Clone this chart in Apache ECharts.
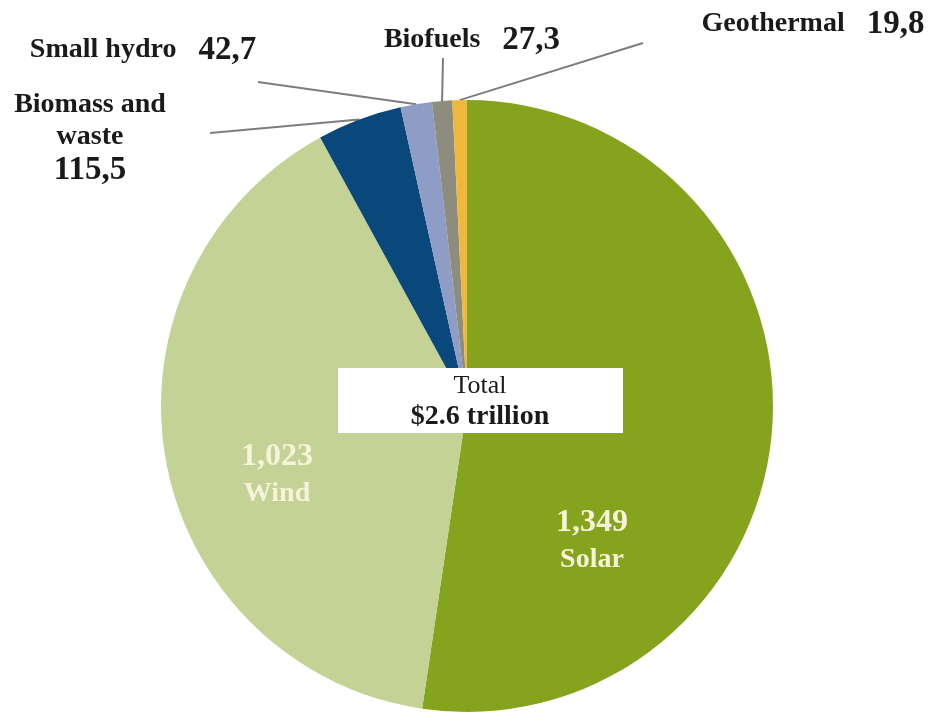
<!DOCTYPE html>
<html>
<head>
<meta charset="utf-8">
<script src="https://cdn.jsdelivr.net/npm/echarts@6/dist/echarts.min.js"></script>
<style>
  html, body { margin: 0; padding: 0; background: #ffffff; }
  #chart { width: 932px; height: 715px; }
</style>
</head>
<body>
<div id="chart"></div>
<script>
// Investment by renewable technology (billion USD), total $2.6 trillion
const categories = ['Solar', 'Wind', 'Biomass and waste', 'Small hydro', 'Biofuels', 'Geothermal'];
const labelNames = ['Solar', 'Wind', 'Biomass and\nwaste', 'Small hydro', 'Biofuels', 'Geothermal'];
const values = [1349, 1023, 115.5, 42.7, 27.3, 19.8];
const totalText = ['Total', '$2.6 trillion'];

const colors = ['#85a31d', '#c4d295', '#0a487c', '#8f9cc5', '#8e8d7d', '#efb83c'];
const SERIF = '"Liberation Serif", "Times New Roman", serif';

// Label placement: big slices get text inside, small ones a callout line to text above
const labelPlacement = [
  { center: [592, 541], inside: true },
  { center: [277, 475], inside: true },
  { center: [90, 138], lineEnd: [210, 133] },
  { center: [143, 50], lineEnd: [258, 82] },
  { center: [472, 40], lineEnd: [443, 58] },
  { center: [813, 24], lineEnd: [643, 43] }
];

function fmtBig(v) { return v.toLocaleString('en-US'); }
function fmtSmall(v) { return v.toFixed(1).replace('.', ','); }

const data = categories.map((name, i) => {
  const inside = !!labelPlacement[i].inside;
  let text;
  if (inside) {
    text = '{v|' + fmtBig(values[i]) + '}\n{n|' + labelNames[i] + '}';
  } else if (labelNames[i].indexOf('\n') >= 0) {
    text = labelNames[i].split('\n').map(s => '{o|' + s + '}').join('\n') + '\n{ov|' + fmtSmall(values[i]) + '}';
  } else {
    text = '{o|' + labelNames[i] + '}{g|}{ov|' + fmtSmall(values[i]) + '}';
  }
  return {
    name: name,
    value: values[i],
    itemStyle: { color: colors[i] },
    label: { show: true, position: inside ? 'inside' : 'outside', formatter: text },
    labelLine: { show: !inside }
  };
});

const chart = echarts.init(document.getElementById('chart'), null, { renderer: 'canvas' });

chart.setOption({
  backgroundColor: '#ffffff',
  animation: false,
  series: [{
    type: 'pie',
    center: [467, 406],
    radius: [0, 306],
    startAngle: 90,
    clockwise: true,
    avoidLabelOverlap: false,
    data: data,
    label: {
      fontFamily: SERIF,
      rich: {
        v: { fontFamily: SERIF, fontSize: 32, fontWeight: 'bold', color: '#f6f3d8', lineHeight: 38, align: 'center' },
        n: { fontFamily: SERIF, fontSize: 28, fontWeight: 'bold', color: '#f6f3d8', lineHeight: 36, align: 'center' },
        o: { fontFamily: SERIF, fontSize: 28, fontWeight: 'bold', color: '#1a1a1a', lineHeight: 32, align: 'center' },
        ov: { fontFamily: SERIF, fontSize: 33, fontWeight: 'bold', color: '#1a1a1a', lineHeight: 34, align: 'center' },
        g: { width: 22 }
      }
    },
    labelLine: {
      length: 10,
      length2: 10,
      lineStyle: { color: '#7d7d7d', width: 2 }
    },
    labelLayout: function (params) {
      const p = labelPlacement[params.dataIndex];
      const out = { x: p.center[0], y: p.center[1], align: 'center', verticalAlign: 'middle' };
      if (!p.inside && params.labelLinePoints) {
        const start = params.labelLinePoints[0];
        out.labelLinePoints = [start, p.lineEnd, p.lineEnd];
      }
      return out;
    }
  }],
  graphic: [{
    type: 'group',
    left: 338,
    top: 368,
    z: 100,
    children: [
      { type: 'rect', z: 100, shape: { x: 0, y: 0, width: 285, height: 65 }, style: { fill: '#ffffff' } },
      { type: 'text', z: 101, x: 142, y: 18, style: { text: totalText[0], font: '26px ' + SERIF, fill: '#1a1a1a', align: 'center', verticalAlign: 'middle' } },
      { type: 'text', z: 101, x: 142, y: 49, style: { text: totalText[1], font: 'bold 28px ' + SERIF, fill: '#1a1a1a', align: 'center', verticalAlign: 'middle' } }
    ]
  }]
});
</script>
</body>
</html>
